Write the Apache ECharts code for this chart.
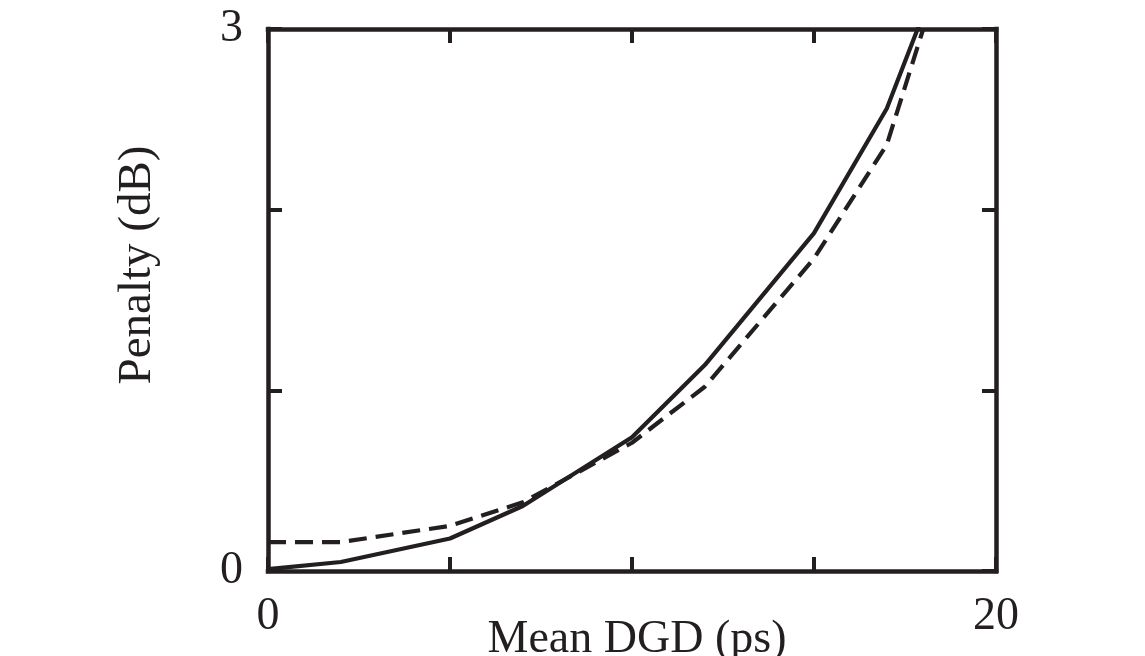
<!DOCTYPE html>
<html>
<head>
<meta charset="utf-8">
<script src="https://cdn.jsdelivr.net/npm/echarts@6/dist/echarts.min.js"></script>
<style>
  html, body { margin: 0; padding: 0; background: #ffffff; }
  #chart { width: 1145px; height: 656px; }
</style>
</head>
<body>
<div id="chart"></div>
<script>
// Mean DGD (ps) sample points
const dgd = [0, 2, 5, 7, 10, 12, 15, 17, 18];
// Penalty (dB), solid curve
const penaltySolid = [0.01, 0.05, 0.18, 0.36, 0.74, 1.14, 1.87, 2.56, 3.08];
// Penalty (dB), dashed curve
const penaltyDashed = [0.16, 0.16, 0.25, 0.38, 0.71, 1.02, 1.73, 2.36, 3.0];
// Tick labels shown on each axis
const xTickLabels = [0, 20];
const yTickLabels = [0, 3];

const ink = '#231f20';
const font = 'Liberation Serif';

function pairs(xs, ys) {
  return xs.map((x, i) => [x, ys[i]]);
}

const frameLine = { show: true, onZero: false, lineStyle: { color: ink, width: 4.5, cap: 'square' } };
const innerTick = { show: true, inside: true, length: 14, lineStyle: { color: ink, width: 4 } };

const chart = echarts.init(document.getElementById('chart'), null, { renderer: 'canvas' });

chart.setOption({
  backgroundColor: '#ffffff',
  animation: false,
  grid: { left: 268, top: 29, right: 149, bottom: 85, containLabel: false },
  xAxis: [
    {
      type: 'value', position: 'bottom', min: 0, max: 20, interval: 5,
      axisLine: frameLine, axisTick: innerTick, splitLine: { show: false },
      axisLabel: {
        margin: 23, fontFamily: font, fontSize: 46, color: ink,
        formatter: v => (xTickLabels.includes(v) ? String(v) : '')
      }
    },
    {
      type: 'value', position: 'top', min: 0, max: 20, interval: 5,
      axisLine: frameLine, axisTick: innerTick, splitLine: { show: false },
      axisLabel: { show: false }
    }
  ],
  yAxis: [
    {
      type: 'value', position: 'left', min: 0, max: 3, interval: 1,
      axisLine: frameLine, axisTick: innerTick, splitLine: { show: false },
      axisLabel: {
        margin: 25, fontFamily: font, fontSize: 46, color: ink,
        formatter: v => (yTickLabels.includes(v) ? String(v) : '')
      }
    },
    {
      type: 'value', position: 'right', min: 0, max: 3, interval: 1,
      axisLine: frameLine, axisTick: innerTick, splitLine: { show: false },
      axisLabel: { show: false }
    }
  ],
  series: [
    {
      type: 'line', xAxisIndex: 0, yAxisIndex: 0,
      data: pairs(dgd, penaltySolid),
      showSymbol: false, clip: true, z: 3,
      lineStyle: { color: ink, width: 4.2, type: 'solid', join: 'round' }
    },
    {
      type: 'line', xAxisIndex: 0, yAxisIndex: 0,
      data: pairs(dgd, penaltyDashed),
      showSymbol: false, clip: true, z: 2,
      lineStyle: { color: ink, width: 4.2, type: [18, 9] }
    }
  ],
  graphic: [
    {
      type: 'text', x: 637, y: 640,
      style: {
        text: 'Mean DGD (ps)', fontFamily: font, fontSize: 46, fill: ink,
        align: 'center', verticalAlign: 'middle'
      }
    },
    {
      type: 'text', x: 138, y: 265, rotation: Math.PI / 2,
      style: {
        text: 'Penalty (dB)', fontFamily: font, fontSize: 47, fill: ink,
        align: 'center', verticalAlign: 'middle'
      }
    }
  ]
});
</script>
</body>
</html>
